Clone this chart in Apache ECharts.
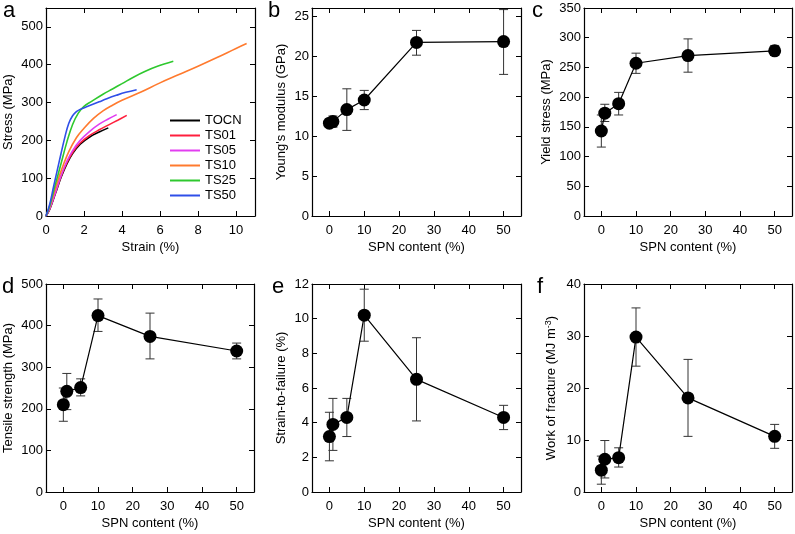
<!DOCTYPE html>
<html>
<head>
<meta charset="utf-8">
<script src="https://cdn.jsdelivr.net/npm/echarts@6/dist/echarts.min.js"></script>
<style>
  html, body { margin: 0; padding: 0; background: #fff; }
  #main { width: 795px; height: 534px; }
</style>
</head>
<body>
<div id="main"></div>
<script>
// panel a: stress-strain curves [strain %, stress MPa]
var curveNames = ['TOCN', 'TS01', 'TS05', 'TS10', 'TS25', 'TS50'];
var curveColors = ['#000000', '#ff1f3d', '#e23ef0', '#ff7a2e', '#2ec82e', '#2f4fe8'];
var tocn = [[0,0],[0.2,18],[0.5,60],[0.8,103],[1.1,138],[1.4,165],[1.8,190],[2.3,209],[2.8,222],[3.28,233]];
var ts01 = [[0,0],[0.2,20],[0.5,62],[0.8,106],[1.1,141],[1.4,168],[1.8,193],[2.3,213],[2.8,228],[3.3,241],[3.8,254],[4.25,266]];
var ts05 = [[0,0],[0.2,20],[0.5,63],[0.8,108],[1.1,145],[1.4,173],[1.8,200],[2.3,224],[2.8,243],[3.3,257],[3.72,268]];
var ts10 = [[0,0],[0.2,25],[0.5,75],[0.8,120],[1.2,170],[1.6,207],[2,232],[2.5,258],[3,278],[3.5,293],[4,306],[5,328],[6,352],[7,374],[8,396],[9,419],[10,443],[10.56,456]];
var ts25 = [[0,0],[0.2,28],[0.5,85],[0.8,140],[1.1,196],[1.4,242],[1.7,272],[2.0,290],[2.4,303],[3,322],[3.5,336],[4,350],[4.6,367],[5.2,382],[5.83,395],[6.7,409]];
var ts50 = [[0,0],[0.2,32],[0.4,78],[0.7,145],[1.0,210],[1.2,245],[1.4,265],[1.6,276],[1.8,282],[2.2,290],[2.8,302],[3.2,310],[3.7,319],[4.2,327],[4.77,334]];
var curves = [tocn, ts01, ts05, ts10, ts25, ts50];

// panels b-f: value, lower and upper error bar end
var spn = [0, 1, 5, 10, 25, 50];
var modulus   = [11.6, 11.8, 13.3, 14.5, 21.7, 21.8];
var modulusLo = [11.1, 11.1, 10.7, 13.3, 20.1, 17.7];
var modulusHi = [12.1, 12.5, 15.9, 15.7, 23.2, 25.8];
var yieldS    = [143, 173, 189, 257, 270, 278];
var yieldLo   = [116, 159, 170, 240, 242, 270];
var yieldHi   = [170, 188, 208, 274, 298, 287];
var tensile   = [210, 242, 251, 424, 374, 339];
var tensileLo = [170, 198, 231, 386, 320, 320];
var tensileHi = [250, 285, 272, 464, 430, 358];
var strainF   = [3.2, 3.9, 4.3, 10.2, 6.5, 4.3];
var strainLo  = [1.8, 2.4, 3.2, 8.7, 4.1, 3.6];
var strainHi  = [4.6, 5.4, 5.4, 11.7, 8.9, 5.0];
var work      = [4.2, 6.3, 6.6, 29.8, 18.1, 10.7];
var workLo    = [1.5, 2.7, 4.8, 24.2, 10.7, 8.4];
var workHi    = [6.9, 9.9, 8.5, 35.4, 25.5, 13.0];

// tick labels
var strainTicks = [0, 2, 4, 6, 8, 10];
var stressTicks = [0, 100, 200, 300, 400, 500];
var spnTicks = [0, 10, 20, 30, 40, 50];
var modulusTicks = [0, 5, 10, 15, 20, 25];
var yieldTicks = [0, 50, 100, 150, 200, 250, 300, 350];
var tensileTicks = [0, 100, 200, 300, 400, 500];
var strainFTicks = [0, 2, 4, 6, 8, 10, 12];
var workTicks = [0, 10, 20, 30, 40];

var FONT = 'Liberation Sans, Arial, sans-serif';

var grids = [
  { left: 46, top: 8, width: 209, height: 208 },
  { left: 312, top: 8, width: 209, height: 208 },
  { left: 584, top: 8, width: 208, height: 208 },
  { left: 46, top: 284, width: 208, height: 208 },
  { left: 312, top: 284, width: 209, height: 208 },
  { left: 584, top: 284, width: 208, height: 208 }
];

var panels = [
  { xmin: 0, xmax: 11, xticks: strainTicks, xname: 'Strain (%)', ymax: 550, yticks: stressTicks, yname: 'Stress (MPa)', gap: 31 },
  { xmin: -5, xmax: 55, xticks: spnTicks, xname: 'SPN content (%)', ymax: 26, yticks: modulusTicks, yname: "Young's modulus (GPa)", gap: 24 },
  { xmin: -5, xmax: 55, xticks: spnTicks, xname: 'SPN content (%)', ymax: 350, yticks: yieldTicks, yname: 'Yield stress (MPa)', gap: 31 },
  { xmin: -5, xmax: 55, xticks: spnTicks, xname: 'SPN content (%)', ymax: 500, yticks: tensileTicks, yname: 'Tensile strength (MPa)', gap: 31 },
  { xmin: -5, xmax: 55, xticks: spnTicks, xname: 'SPN content (%)', ymax: 12, yticks: strainFTicks, yname: 'Strain-to-failure (%)', gap: 24 },
  { xmin: -5, xmax: 55, xticks: spnTicks, xname: 'SPN content (%)', ymax: 40, yticks: workTicks, yname: 'Work of fracture (MJ m{sup|-3})', gap: 25 }
];

var xAxes = [];
var yAxes = [];
panels.forEach(function (p, i) {
  var line = { show: true, onZero: false, lineStyle: { color: '#000', width: 1.2 } };
  var tickX = { show: true, inside: true, length: 5, customValues: p.xticks, lineStyle: { color: '#000', width: 1 } };
  var tickY = { show: true, inside: true, length: 5, customValues: p.yticks, lineStyle: { color: '#000', width: 1 } };
  xAxes.push({
    type: 'value', gridIndex: i, min: p.xmin, max: p.xmax, position: 'bottom',
    axisLine: line, axisTick: tickX, splitLine: { show: false },
    axisLabel: { customValues: p.xticks, color: '#000', fontSize: 13, fontFamily: FONT, margin: 8 },
    name: p.xname, nameLocation: 'middle', nameGap: 25,
    nameTextStyle: { color: '#000', fontSize: 13, fontFamily: FONT }
  });
  xAxes.push({
    type: 'value', gridIndex: i, min: p.xmin, max: p.xmax, position: 'top',
    axisLine: line, axisTick: tickX, splitLine: { show: false }, axisLabel: { show: false }
  });
  yAxes.push({
    type: 'value', gridIndex: i, min: 0, max: p.ymax, position: 'left',
    axisLine: line, axisTick: tickY, splitLine: { show: false },
    axisLabel: { customValues: p.yticks, color: '#000', fontSize: 13, fontFamily: FONT, margin: 3 },
    name: p.yname, nameLocation: 'middle', nameGap: p.gap,
    nameTextStyle: {
      color: '#000', fontSize: 13, fontFamily: FONT,
      rich: { sup: { fontSize: 9, verticalAlign: 'top', padding: [0, 0, 6, 0], fontFamily: FONT, color: '#000' } }
    }
  });
  yAxes.push({
    type: 'value', gridIndex: i, min: 0, max: p.ymax, position: 'right',
    axisLine: line, axisTick: tickY, splitLine: { show: false }, axisLabel: { show: false }
  });
});

var series = [];
curves.forEach(function (c, k) {
  series.push({
    name: curveNames[k], type: 'line', xAxisIndex: 0, yAxisIndex: 0,
    data: c, smooth: 0.4, symbol: 'none', showSymbol: false,
    lineStyle: { color: curveColors[k], width: 1.6 }, itemStyle: { color: curveColors[k] },
    z: 3
  });
});

function errBar(params, api) {
  var x = api.value(0);
  var lo = api.coord([x, api.value(2)]);
  var hi = api.coord([x, api.value(3)]);
  var style = { stroke: '#333', lineWidth: 1 };
  return {
    type: 'group',
    children: [
      { type: 'line', shape: { x1: lo[0], y1: lo[1], x2: hi[0], y2: hi[1] }, style: style },
      { type: 'line', shape: { x1: lo[0] - 4.5, y1: lo[1], x2: lo[0] + 4.5, y2: lo[1] }, style: style },
      { type: 'line', shape: { x1: hi[0] - 4.5, y1: hi[1], x2: hi[0] + 4.5, y2: hi[1] }, style: style }
    ]
  };
}

var sets = [
  [modulus, modulusLo, modulusHi],
  [yieldS, yieldLo, yieldHi],
  [tensile, tensileLo, tensileHi],
  [strainF, strainLo, strainHi],
  [work, workLo, workHi]
];
sets.forEach(function (s, j) {
  var g = j + 1;
  var pts = spn.map(function (x, i) { return [x, s[0][i]]; });
  var bars = spn.map(function (x, i) { return [x, s[0][i], s[1][i], s[2][i]]; });
  series.push({
    type: 'custom', xAxisIndex: g * 2, yAxisIndex: g * 2, renderItem: errBar,
    data: bars, encode: { x: 0, y: [1, 2, 3] }, clip: false, z: 2
  });
  series.push({
    type: 'line', xAxisIndex: g * 2, yAxisIndex: g * 2, data: pts,
    symbol: 'circle', symbolSize: 13, showSymbol: true,
    lineStyle: { color: '#000', width: 1.2 }, itemStyle: { color: '#000' }, z: 3
  });
});

var letters = [['a', 3, 0], ['b', 268, 0], ['c', 532, 0], ['d', 2, 276], ['e', 272, 276], ['f', 537, 276]];

var chart = echarts.init(document.getElementById('main'));
var option = {
  backgroundColor: '#fff',
  animation: false,
  grid: grids,
  xAxis: xAxes,
  yAxis: yAxes,
  legend: {
    data: curveNames, orient: 'vertical', left: 170, top: 114, padding: 0,
    icon: 'rect', itemWidth: 30, itemHeight: 2, itemGap: 2,
    textStyle: { color: '#000', fontSize: 13, fontFamily: FONT }
  },
  graphic: letters.map(function (l) {
    return { type: 'text', left: l[1], top: l[2], style: { text: l[0], fontSize: 22, fontFamily: FONT, fill: '#000' } };
  }),
  series: series
};
chart.setOption(option);
</script>
</body>
</html>
